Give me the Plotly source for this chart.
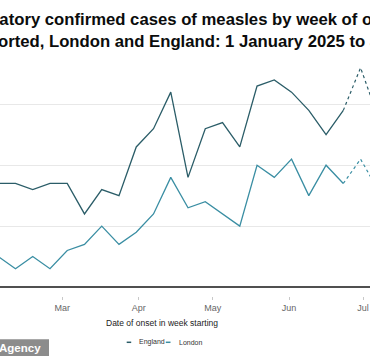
import pandas as pd
import plotly.graph_objects as go

# ---- data ----
week_start = ["2025-02-03", "2025-02-10", "2025-02-17", "2025-02-24", "2025-03-03",
              "2025-03-10", "2025-03-17", "2025-03-24", "2025-03-31", "2025-04-07",
              "2025-04-14", "2025-04-21", "2025-04-28", "2025-05-05", "2025-05-12",
              "2025-05-19", "2025-05-26", "2025-06-02", "2025-06-09", "2025-06-16",
              "2025-06-23", "2025-06-30", "2025-07-07"]
england = [17, 17, 16, 17, 17, 12, 16, 15, 23, 26, 32, 18, 26, 27, 23, 33, 34, 32, 29, 25, 29, 36, 28]
london = [5, 3, 5, 3, 6, 7, 10, 7, 9, 12, 18, 13, 14, 12, 10, 20, 18, 21, 15, 20, 17, 21, 16]
last_complete = "2025-06-23"  # later weeks provisional (dotted)
tick_dates = ["2025-03-01", "2025-04-01", "2025-05-01", "2025-06-01", "2025-07-01"]
tick_labels = ["Mar", "Apr", "May", "Jun", "Jul"]

ENG_COL = "#2b5d68"
LON_COL = "#3a8ea3"

W, H = 370, 356
TOP, BOTTOM = 55, 296          # plot area pixel rows
ZERO_PX = 287                  # pixel row of value 0
PX_PER_UNIT = 6.09
PX_PER_DAY = 2.465
MAR1_PX = 62.3

dates = pd.to_datetime(week_start)
cut = week_start.index(last_complete)

mar1 = pd.Timestamp("2025-03-01")
x0 = mar1 - pd.Timedelta(days=MAR1_PX / PX_PER_DAY)
x1 = mar1 + pd.Timedelta(days=(W - MAR1_PX) / PX_PER_DAY)
y0 = -(BOTTOM - ZERO_PX) / PX_PER_UNIT
y1 = (ZERO_PX - TOP) / PX_PER_UNIT

fig = go.Figure()
for name, vals, col in [("England", england, ENG_COL), ("London", london, LON_COL)]:
    fig.add_trace(go.Scatter(x=dates[:cut + 1], y=vals[:cut + 1], mode="lines", name=name,
                             line=dict(color=col, width=1.3), showlegend=False))
    fig.add_trace(go.Scatter(x=dates[cut:], y=vals[cut:], mode="lines", name=name + " (provisional)",
                             line=dict(color=col, width=1.2, dash="dot"), showlegend=False))

def py(pix):
    return (BOTTOM - pix) / (BOTTOM - TOP)

# baseline axis line at value 0
fig.add_shape(type="line", xref="paper", yref="y", x0=0, x1=1, y0=0, y1=0,
              line=dict(color="#505050", width=2))

TITLE_FONT = dict(family="Liberation Sans", size=16.7, color="#0b0c0c")
fig.add_annotation(text="<b>Laboratory confirmed cases of measles by week of onset</b>",
                   xref="paper", yref="paper", x=0, y=py(19.5), xanchor="left", yanchor="middle",
                   xshift=-49.5, showarrow=False, font=TITLE_FONT)
fig.add_annotation(text="<b>reported, London and England: 1 January 2025 to July 2025</b>",
                   xref="paper", yref="paper", x=0, y=py(41.5), xanchor="left", yanchor="middle",
                   xshift=-30.5, showarrow=False, font=TITLE_FONT)

# axis title
fig.add_annotation(text="Date of onset in week starting", xref="paper", yref="paper",
                   x=162 / W, y=py(322.5), xanchor="center", yanchor="middle", showarrow=False,
                   font=dict(family="Liberation Sans", size=8.5, color="#222222"))

# legend
leg_y = py(342.3)
for xa, xb, col in [(126.7, 131.2, ENG_COL), (165.8, 170.5, LON_COL)]:
    fig.add_shape(type="line", xref="paper", yref="paper", x0=xa / W, x1=xb / W,
                  y0=leg_y, y1=leg_y, line=dict(color=col, width=1.5))
for txt, xl in [("England", 136.5), ("London", 176.5)]:
    fig.add_annotation(text=txt, xref="paper", yref="paper", x=xl / W, y=leg_y,
                       xanchor="left", yanchor="middle", showarrow=False,
                       font=dict(family="Liberation Sans", size=7, color="#333333"))

# source badge
fig.add_shape(type="rect", xref="paper", yref="paper", x0=-0.01, x1=49 / W,
              y0=py(339.3), y1=py(357), fillcolor="#8c8c8c", line=dict(width=0), layer="above")
fig.add_annotation(text="<b>Agency</b>", xref="paper", yref="paper", x=0, y=py(347.5),
                   xanchor="left", yanchor="middle", xshift=-3, showarrow=False,
                   font=dict(family="Liberation Sans", size=11.5, color="#ffffff"))

fig.update_layout(
    width=W, height=H, autosize=False,
    margin=dict(l=0, r=0, t=TOP, b=H - BOTTOM, pad=0),
    paper_bgcolor="white", plot_bgcolor="white",
    xaxis=dict(range=[x0, x1], tickvals=pd.to_datetime(tick_dates), ticktext=tick_labels,
               showgrid=False, zeroline=False, showline=False,
               ticks="outside", ticklen=3, tickcolor="#c8c8c8", tickwidth=1,
               tickfont=dict(family="Liberation Sans", size=9, color="#666666")),
    yaxis=dict(range=[y0, y1], dtick=10, tick0=0, showticklabels=False,
               showgrid=True, gridcolor="#e8e8e8", gridwidth=1,
               zeroline=False, showline=False),
    showlegend=False,
)

fig.write_html("out.html", config={"displayModeBar": False},
               post_script="document.body.style.margin='0';document.body.style.overflow='hidden';")
